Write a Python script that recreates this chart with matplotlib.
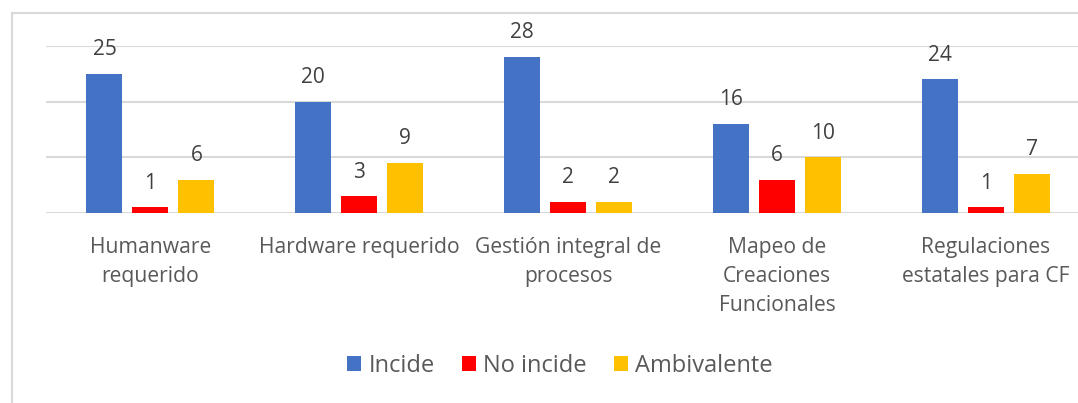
import numpy as np
import matplotlib.pyplot as plt
from matplotlib.patches import Rectangle

categories = [
    "Humanware\nrequerido",
    "Hardware requerido",
    "Gestión integral de\nprocesos",
    "Mapeo de\nCreaciones\nFuncionales",
    "Regulaciones\nestatales para CF",
]
series_names = ["Incide", "No incide", "Ambivalente"]
incide = [25, 20, 28, 16, 24]
no_incide = [1, 3, 2, 6, 1]
ambivalente = [6, 9, 2, 10, 7]
colors = ["#4472C4", "#FF0000", "#FFC000"]

plt.rcParams["font.family"] = ["Open Sans", "DejaVu Sans"]

W, H = 1078, 403
fig = plt.figure(figsize=(W / 100, H / 100), dpi=100)

# axes pixel box (image coords): left 46, right 1090 (runs past the edge), top 46, bottom 213
left, right, top, bottom = 46, 1090.5, 46, 213
ax = fig.add_axes([left / W, (H - bottom) / H, (right - left) / W, (bottom - top) / H])

x = np.arange(len(categories))
width = 36 / 209
step = 46 / 209

for i, (vals, name, c) in enumerate(zip([incide, no_incide, ambivalente], series_names, colors)):
    pos = x + (i - 1) * step
    ax.bar(pos, vals, width=width, color=c, label=name, zorder=3)
    for px, v in zip(pos, vals):
        ax.annotate(str(v), (px, v), xytext=(0, 13.5), textcoords="offset points",
                    ha="center", va="baseline", fontsize=15, color="#404040")

ax.set_xlim(-0.5, len(categories) - 0.5)
ax.set_ylim(0, 30)
ax.set_yticks([0, 10, 20, 30])
ax.yaxis.grid(True, color="#D9D9D9", linewidth=1.5, zorder=0)
ax.set_yticklabels([])
ax.tick_params(axis="y", length=0)
ax.tick_params(axis="x", length=0, pad=17.5, labelsize=15.2, labelcolor="#595959")
ax.set_xticks(x)
ax.set_xticklabels(categories, linespacing=1.5)
for s in ax.spines.values():
    s.set_visible(False)

leg = fig.legend(loc="center", bbox_to_anchor=(560 / W, (H - 366) / H), ncol=3,
                 frameon=False, fontsize=17, labelcolor="#595959",
                 handlelength=0.6, handleheight=0.6, handletextpad=0.3, columnspacing=1.15)

# outer chart border
fig.add_artist(Rectangle((12 / W, -0.1), 1.2, (H - 13) / H + 0.1, transform=fig.transFigure,
                         fill=False, edgecolor="#D9D9D9", linewidth=1.5))

fig.savefig("out.png", dpi=100)
